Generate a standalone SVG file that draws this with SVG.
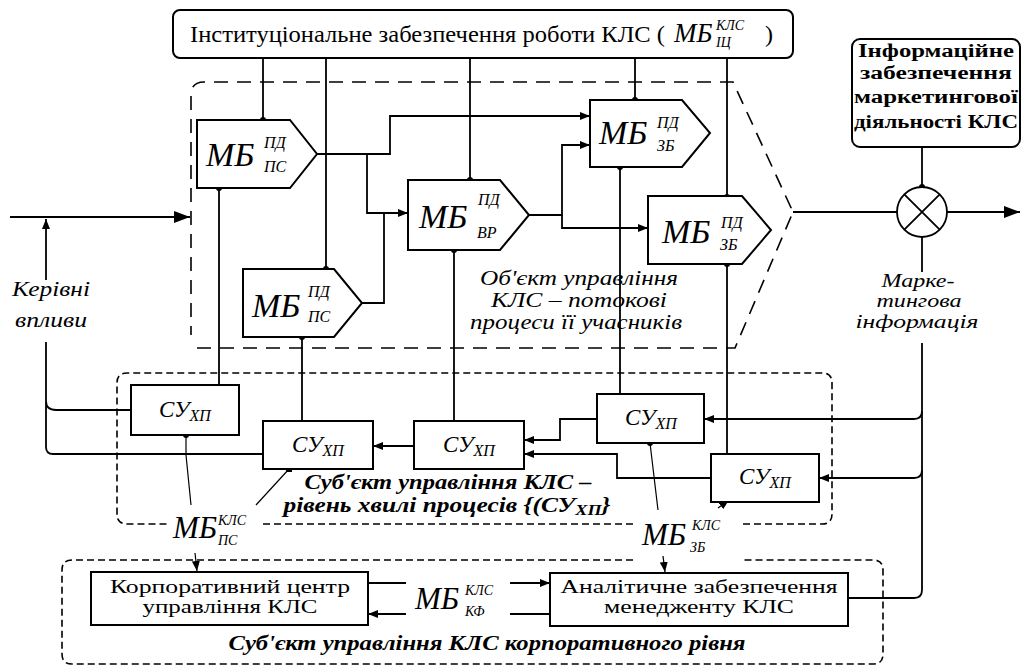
<svg xmlns="http://www.w3.org/2000/svg" width="1022" height="666" viewBox="0 0 1022 666" font-family="Liberation Serif, Times New Roman, DejaVu Serif, serif">
<style>
.bx{fill:#fff;stroke:#000;stroke-width:2}
.ln{fill:none;stroke:#000;stroke-width:1.8}
.th{fill:none;stroke:#000;stroke-width:1.2}
.dl{fill:none;stroke:#000;stroke-width:1.6;stroke-dasharray:14 9}
.ds{fill:none;stroke:#000;stroke-width:1.6;stroke-dasharray:7 4}
text{font-family:Liberation Serif, Times New Roman, DejaVu Serif, serif;fill:#000}
.i{font-style:italic}
.b{font-weight:bold}
.mb{font-style:italic;font-size:34px}
.sc{font-style:italic;font-size:16px}
.su{font-style:italic;font-size:23px}
</style>
<defs>
<marker id="a" viewBox="0 0 10 8" refX="10" refY="4" markerWidth="10" markerHeight="8" orient="auto" markerUnits="userSpaceOnUse"><path d="M0,0 L10,4 L0,8 z"/></marker>
<marker id="big" viewBox="0 0 16 12" refX="16" refY="6" markerWidth="16" markerHeight="12" orient="auto" markerUnits="userSpaceOnUse"><path d="M0,0 L16,6 L0,12 z"/></marker>
</defs>
<rect width="1022" height="666" fill="#fff"/>

<g id="object-region">
<path class="dl" d="M197,348 H735 L793,212 L733,82 H204 Q191,82 191,95 V335"/>
</g>
<g id="su-region">
<path class="ds" d="M743,524 H822 Q832,524 832,514 V383 Q832,373 822,373 H127 Q117,373 117,383 V514 Q117,524 127,524 H167 M263,524 H633"/>
</g>
<g id="corp-region">
<path class="ds" d="M633,560 H72 Q62,560 62,570 V654 Q62,664 72,664 H873 Q883,664 883,654 V570 Q883,560 873,560 H743"/>
</g>

<g id="connectors">
<path class="ln" d="M263,58 V120 M326,58 V269 M470,58 V180 M635,58 V100 M727,58 V197"/>
<path class="ln" d="M317,154 H390 V116 H590" marker-end="url(#a)"/>
<path class="ln" d="M367,154 V213 H408" marker-end="url(#a)"/>
<path class="ln" d="M362,303 H384 V213"/>
<path class="ln" d="M529,215 H562 V145 H590" marker-end="url(#a)"/>
<path class="ln" d="M562,215 V228 H648" marker-end="url(#a)"/>
<path class="ln" d="M219,188 V385 M302,337 V421 M454,250 V421 M620,167 V394 M727,264 V454"/>
<path class="ln" d="M10,217 H190" marker-end="url(#big)"/>
<path class="ln" d="M46,280 V219" marker-end="url(#a)"/>
<path class="ln" d="M46,342 V401 Q46,410 56,410 H131 M46,401 V447 Q46,454 53,454 H263"/>
<path class="ln" d="M414,446 H373" marker-end="url(#a)"/>
<path class="ln" d="M597,419 H560 V440 H524" marker-end="url(#a)"/>
<path class="ln" d="M711,478 H617 V454 H524" marker-end="url(#a)"/>
<path class="ln" d="M922,147 V187 M922,237 V272"/>
<path class="ln" d="M922,343 V590 Q922,598 914,598 H817" marker-end="url(#a)"/>
<path class="ln" d="M922,411 Q922,419 914,419 H704" marker-end="url(#a)"/>
<path class="ln" d="M922,470 Q922,478 914,478 H819" marker-end="url(#a)"/>
<path class="ln" d="M793,212 H897"/>
<path class="ln" d="M947,212 H1020" marker-end="url(#big)"/>
<path class="ln" d="M368,583 H406 M550,614 H510"/>
<path class="ln" d="M510,583 H550" marker-end="url(#a)"/>
<path class="ln" d="M406,614 H368" marker-end="url(#a)"/>
<path class="th" d="M186,435 V455 L191,505 M289,469 L256,505 M650,443 L658,510"/>
<path class="th" d="M718,508 L729,500" marker-end="url(#a)"/>
<path class="th" d="M195,553 L197,571" marker-end="url(#a)"/>
<path class="th" d="M663,556 L665,572" marker-end="url(#a)"/>
<g fill="#000">
<circle cx="263" cy="120" r="3"/><circle cx="219" cy="188" r="3"/><circle cx="326" cy="269" r="3"/><circle cx="302" cy="337" r="3"/>
<circle cx="470" cy="180" r="3"/><circle cx="454" cy="250" r="3"/><circle cx="635" cy="100" r="3"/><circle cx="620" cy="167" r="3"/>
<circle cx="727" cy="197" r="3"/><circle cx="727" cy="264" r="3"/><circle cx="922" cy="187" r="3"/><circle cx="186" cy="435" r="3"/>
<circle cx="650" cy="443" r="3"/><rect x="286" y="466" width="6" height="6"/>
</g>
</g>

<g id="inst">
<rect class="bx" x="173" y="10" width="620" height="48" rx="7"/>
<text x="190" y="42" font-size="24" textLength="475" lengthAdjust="spacingAndGlyphs">Інституціональне забезпечення роботи КЛС (</text>
<text class="i" x="674" y="42" font-size="27">МБ</text>
<text class="i" x="716" y="30" font-size="14">КЛС</text>
<text class="i" x="716" y="47" font-size="14">ІЦ</text>
<text x="765" y="42" font-size="24">)</text>
</g>

<g id="info">
<rect class="bx" x="852" y="39" width="168" height="108" rx="8"/>
<g class="b" font-size="18" text-anchor="middle">
<text x="936" y="57" textLength="156" lengthAdjust="spacingAndGlyphs">Інформаційне</text>
<text x="936" y="79" textLength="152" lengthAdjust="spacingAndGlyphs">забезпечення</text>
<text x="936" y="103" textLength="164" lengthAdjust="spacingAndGlyphs">маркетингової</text>
<text x="936" y="128" textLength="164" lengthAdjust="spacingAndGlyphs">діяльності КЛС</text>
</g>
</g>

<g id="mixer">
<circle cx="922" cy="212" r="25" fill="#fff" stroke="#000" stroke-width="1.8"/>
<path class="ln" d="M904.3,194.3 L939.7,229.7 M939.7,194.3 L904.3,229.7"/>
</g>

<g id="mb-ps-1">
<polygon class="bx" points="197,120 290,120 317,154 290,188 197,188"/>
<text class="mb" x="206" y="166">МБ</text>
<text class="sc" x="264" y="148">ПД</text>
<text class="sc" x="264" y="172">ПС</text>
</g>
<g id="mb-ps-2">
<polygon class="bx" points="243,269 334,269 362,303 334,337 243,337"/>
<text class="mb" x="252" y="317">МБ</text>
<text class="sc" x="308" y="297">ПД</text>
<text class="sc" x="308" y="322">ПС</text>
</g>
<g id="mb-vr">
<polygon class="bx" points="408,180 500,180 529,215 500,250 408,250"/>
<text class="mb" x="419" y="228">МБ</text>
<text class="sc" x="478" y="205">ПД</text>
<text class="sc" x="477" y="238">ВР</text>
</g>
<g id="mb-zb-1">
<polygon class="bx" points="590,100 682,100 710,133 682,167 590,167"/>
<text class="mb" x="599" y="144">МБ</text>
<text class="sc" x="657" y="128">ПД</text>
<text class="sc" x="657" y="151">ЗБ</text>
</g>
<g id="mb-zb-2">
<polygon class="bx" points="648,196 742,196 771,230 742,264 648,264"/>
<text class="mb" x="662" y="243">МБ</text>
<text class="sc" x="721" y="228">ПД</text>
<text class="sc" x="720" y="250">ЗБ</text>
</g>

<g id="su-1"><rect class="bx" x="131" y="385" width="108" height="50"/>
<text class="su" x="185" y="417" text-anchor="middle">СУ<tspan font-size="16" dy="4">ХП</tspan></text></g>
<g id="su-2"><rect class="bx" x="263" y="421" width="110" height="48"/>
<text class="su" x="318" y="452" text-anchor="middle">СУ<tspan font-size="16" dy="4">ХП</tspan></text></g>
<g id="su-3"><rect class="bx" x="414" y="421" width="110" height="48"/>
<text class="su" x="469" y="452" text-anchor="middle">СУ<tspan font-size="16" dy="4">ХП</tspan></text></g>
<g id="su-4"><rect class="bx" x="597" y="394" width="107" height="49"/>
<text class="su" x="651" y="425" text-anchor="middle">СУ<tspan font-size="16" dy="4">ХП</tspan></text></g>
<g id="su-5"><rect class="bx" x="711" y="454" width="108" height="48"/>
<text class="su" x="765" y="484" text-anchor="middle">СУ<tspan font-size="16" dy="4">ХП</tspan></text></g>

<g id="corp"><rect class="bx" x="91" y="572" width="277" height="53"/>
<text x="230" y="593" font-size="19" text-anchor="middle" textLength="240" lengthAdjust="spacingAndGlyphs">Корпоративний центр</text>
<text x="230" y="613" font-size="19" text-anchor="middle" textLength="175" lengthAdjust="spacingAndGlyphs">управління КЛС</text></g>
<g id="anal"><rect class="bx" x="550" y="573" width="298" height="53"/>
<text x="699" y="593" font-size="19" text-anchor="middle" textLength="277" lengthAdjust="spacingAndGlyphs">Аналітичне забезпечення</text>
<text x="699" y="613" font-size="19" text-anchor="middle" textLength="190" lengthAdjust="spacingAndGlyphs">менедженту КЛС</text></g>

<g id="labels">
<text class="i" x="51" y="296" font-size="21" text-anchor="middle" textLength="78" lengthAdjust="spacingAndGlyphs">Керівні</text>
<text class="i" x="51" y="327" font-size="21" text-anchor="middle" textLength="72" lengthAdjust="spacingAndGlyphs">впливи</text>
<text class="i" x="579" y="285" font-size="21" text-anchor="middle" textLength="198" lengthAdjust="spacingAndGlyphs">Об'єкт управління</text>
<text class="i" x="579" y="307" font-size="21" text-anchor="middle" textLength="176" lengthAdjust="spacingAndGlyphs">КЛС – потокові</text>
<text class="i" x="576" y="329" font-size="21" text-anchor="middle" textLength="212" lengthAdjust="spacingAndGlyphs">процеси її учасників</text>
<text class="i" x="918" y="287" font-size="18" text-anchor="middle" textLength="73" lengthAdjust="spacingAndGlyphs">Марке-</text>
<text class="i" x="919" y="307" font-size="18" text-anchor="middle" textLength="85" lengthAdjust="spacingAndGlyphs">тингова</text>
<text class="i" x="917" y="328" font-size="18" text-anchor="middle" textLength="123" lengthAdjust="spacingAndGlyphs">інформація</text>
<text class="i b" x="448" y="489" font-size="21" text-anchor="middle" textLength="287" lengthAdjust="spacingAndGlyphs">Суб'єкт управління КЛС –</text>
<text class="i b" x="447" y="512" font-size="21" text-anchor="middle" textLength="327" lengthAdjust="spacingAndGlyphs">рівень хвилі процесів {(СУ<tspan font-size="15" dy="3">ХП</tspan><tspan dy="-3">}</tspan></text>
<text class="i b" x="487" y="650" font-size="21" text-anchor="middle" textLength="517" lengthAdjust="spacingAndGlyphs">Суб'єкт управління КЛС корпоративного рівня</text>
<text class="i" x="173" y="538" font-size="31">МБ</text>
<text class="i" x="218" y="525" font-size="14">КЛС</text>
<text class="i" x="218" y="545" font-size="14">ПС</text>
<text class="i" x="642" y="545" font-size="31">МБ</text>
<text class="i" x="692" y="530" font-size="14">КЛС</text>
<text class="i" x="690" y="552" font-size="14">ЗБ</text>
<text class="i" x="415" y="609" font-size="31">МБ</text>
<text class="i" x="465" y="595" font-size="14">КЛС</text>
<text class="i" x="465" y="616" font-size="14">КФ</text>
</g>
</svg>
